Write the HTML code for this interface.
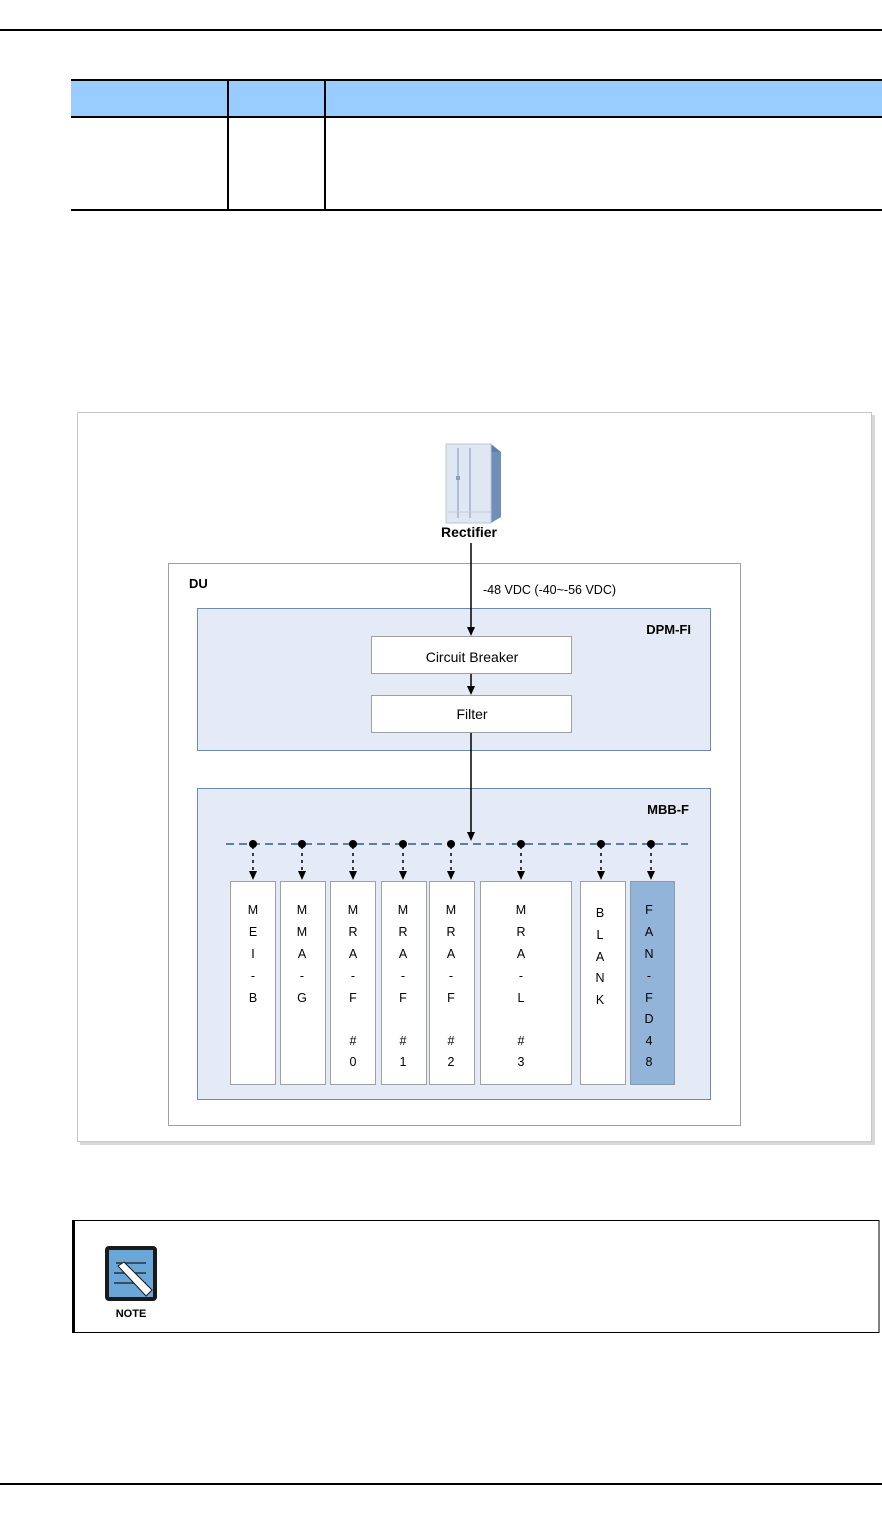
<!DOCTYPE html>
<html><head><meta charset="utf-8"><style>
html,body{margin:0;padding:0;background:#fff;}
svg{display:block;}
text{font-family:"Liberation Sans",Arial,sans-serif;}
</style></head><body>
<svg width="882" height="1514" viewBox="0 0 882 1514" xmlns="http://www.w3.org/2000/svg">
<defs>
<marker id="ah" markerWidth="8" markerHeight="8" refX="4" refY="7" orient="auto" markerUnits="userSpaceOnUse">
<path d="M0,0 L8,0 L4,8 z" transform="rotate(0)" fill="#000"/>
</marker>
</defs>
<!-- header line -->
<rect x="0" y="29" width="882" height="2" fill="#000"/>
<!-- table -->
<rect x="71" y="80" width="811" height="36" fill="#99ccff"/>
<rect x="71" y="79" width="811" height="2" fill="#000"/>
<rect x="71" y="116" width="811" height="2" fill="#000"/>
<rect x="71" y="209" width="811" height="2" fill="#000"/>
<rect x="227" y="79" width="2" height="132" fill="#000"/>
<rect x="324" y="79" width="2" height="132" fill="#000"/>

<!-- diagram frame -->
<rect x="80" y="415" width="795" height="730" fill="#d8d8d8"/>
<rect x="77.5" y="412.5" width="794" height="729" fill="#fff" stroke="#c8c8c8"/>

<!-- rectifier cabinet -->
<polygon points="446,444 491,444 501,452 456,452" fill="#5e80a8"/>
<polygon points="491,452 501,452 501,517 491,523" fill="#6f8fb5"/>
<rect x="446" y="444" width="45" height="79" fill="#dfe7f2" stroke="#b8c6d8"/>
<line x1="458" y1="448" x2="458" y2="518" stroke="#b0c0d4" stroke-width="2"/>
<line x1="470" y1="448" x2="470" y2="518" stroke="#b0c0d4" stroke-width="2"/>
<line x1="448" y1="512" x2="490" y2="512" stroke="#c0ccdc"/>
<rect x="456" y="476" width="4" height="4" fill="#8aa0ba"/>
<text x="469" y="537" font-size="14" font-weight="bold" text-anchor="middle">Rectifier</text>

<!-- DU -->
<rect x="168.5" y="563.5" width="572" height="562" fill="#fff" stroke="#a0a0a0"/>
<text x="189" y="588" font-size="13" font-weight="bold">DU</text>
<text x="483" y="594" font-size="12.5">-48 VDC (-40~-56 VDC)</text>

<!-- DPM-FI -->
<rect x="197.5" y="608.5" width="513" height="142" fill="#e4ebf6" stroke="#6a8ab0"/>
<text x="691" y="634" font-size="13" font-weight="bold" text-anchor="end">DPM-FI</text>
<rect x="371.5" y="636.5" width="200" height="37" fill="#fff" stroke="#a0a0a0"/>
<text x="472" y="662" font-size="14" text-anchor="middle">Circuit Breaker</text>
<rect x="371.5" y="695.5" width="200" height="37" fill="#fff" stroke="#a0a0a0"/>
<text x="472" y="719" font-size="14" text-anchor="middle">Filter</text>

<!-- MBB-F -->
<rect x="197.5" y="788.5" width="513" height="311" fill="#e4ebf6" stroke="#6a8ab0"/>
<text x="689" y="814" font-size="13" font-weight="bold" text-anchor="end">MBB-F</text>

<!-- main connectors -->
<line x1="471" y1="543" x2="471" y2="628" stroke="#000" stroke-width="1.5"/>
<path d="M467,627 L475,627 L471,636 z" fill="#000"/>
<line x1="471" y1="674" x2="471" y2="686" stroke="#000" stroke-width="1.5"/>
<path d="M467,686 L475,686 L471,695 z" fill="#000"/>
<line x1="471" y1="733" x2="471" y2="834" stroke="#000" stroke-width="1.5"/>
<path d="M467,832 L475,832 L471,841 z" fill="#000"/>

<!-- bus -->
<line x1="226" y1="844" x2="688" y2="844" stroke="#5a7fa8" stroke-width="2" stroke-dasharray="8,5"/>
<g fill="#000" stroke="#000">
<g id="d">
</g>
</g>
<g stroke="#000" stroke-width="1.5" stroke-dasharray="3,4">
<line x1="253" y1="846" x2="253" y2="872"/><line x1="302" y1="846" x2="302" y2="872"/>
<line x1="353" y1="846" x2="353" y2="872"/><line x1="403" y1="846" x2="403" y2="872"/>
<line x1="451" y1="846" x2="451" y2="872"/><line x1="521" y1="846" x2="521" y2="872"/>
<line x1="601" y1="846" x2="601" y2="872"/><line x1="651" y1="846" x2="651" y2="872"/>
</g>
<g fill="#000">
<circle cx="253" cy="844" r="4"/><circle cx="302" cy="844" r="4"/><circle cx="353" cy="844" r="4"/><circle cx="403" cy="844" r="4"/>
<circle cx="451" cy="844" r="4"/><circle cx="521" cy="844" r="4"/><circle cx="601" cy="844" r="4"/><circle cx="651" cy="844" r="4"/>
<path d="M249,871 L257,871 L253,880 z"/><path d="M298,871 L306,871 L302,880 z"/><path d="M349,871 L357,871 L353,880 z"/><path d="M399,871 L407,871 L403,880 z"/>
<path d="M447,871 L455,871 L451,880 z"/><path d="M517,871 L525,871 L521,880 z"/><path d="M597,871 L605,871 L601,880 z"/><path d="M647,871 L655,871 L651,880 z"/>
</g>

<!-- boards -->
<g stroke="#a0a0a0" fill="#fff">
<rect x="230.5" y="881.5" width="45" height="203"/>
<rect x="280.5" y="881.5" width="45" height="203"/>
<rect x="330.5" y="881.5" width="45" height="203"/>
<rect x="381.5" y="881.5" width="45" height="203"/>
<rect x="429.5" y="881.5" width="45" height="203"/>
<rect x="480.5" y="881.5" width="91" height="203"/>
<rect x="580.5" y="881.5" width="45" height="203"/>
<rect x="630.5" y="881.5" width="44" height="203" fill="#92b4d8" stroke="#8a9aaa"/>
</g>
<g font-size="12.5" text-anchor="middle" fill="#000">
<text x="253" y="914">M</text><text x="253" y="936">E</text><text x="253" y="958">I</text><text x="253" y="980">-</text><text x="253" y="1002">B</text>
<text x="302" y="914">M</text><text x="302" y="936">M</text><text x="302" y="958">A</text><text x="302" y="980">-</text><text x="302" y="1002">G</text>
<text x="353" y="914">M</text><text x="353" y="936">R</text><text x="353" y="958">A</text><text x="353" y="980">-</text><text x="353" y="1002">F</text><text x="353" y="1045">#</text><text x="353" y="1066">0</text>
<text x="403" y="914">M</text><text x="403" y="936">R</text><text x="403" y="958">A</text><text x="403" y="980">-</text><text x="403" y="1002">F</text><text x="403" y="1045">#</text><text x="403" y="1066">1</text>
<text x="451" y="914">M</text><text x="451" y="936">R</text><text x="451" y="958">A</text><text x="451" y="980">-</text><text x="451" y="1002">F</text><text x="451" y="1045">#</text><text x="451" y="1066">2</text>
<text x="521" y="914">M</text><text x="521" y="936">R</text><text x="521" y="958">A</text><text x="521" y="980">-</text><text x="521" y="1002">L</text><text x="521" y="1045">#</text><text x="521" y="1066">3</text>
<text x="600" y="917">B</text><text x="600" y="939">L</text><text x="600" y="961">A</text><text x="600" y="982">N</text><text x="600" y="1004">K</text>
<text x="649" y="914">F</text><text x="649" y="936">A</text><text x="649" y="958">N</text><text x="649" y="980">-</text><text x="649" y="1002">F</text><text x="649" y="1023">D</text><text x="649" y="1045">4</text><text x="649" y="1066">8</text>
</g>

<!-- note -->
<rect x="73" y="1220.5" width="806" height="112" fill="#fff" stroke="#000"/>
<rect x="72" y="1220" width="3" height="113" fill="#000"/>
<rect x="105" y="1246" width="52" height="55" rx="4" fill="#1a1a1a"/>
<rect x="109" y="1250" width="44" height="47" fill="#6ba6d8"/>
<g stroke="#1a1a1a" stroke-width="1.2">
<line x1="116" y1="1263" x2="146" y2="1263"/><line x1="114" y1="1273" x2="146" y2="1273"/><line x1="114" y1="1283" x2="146" y2="1283"/>
</g>
<polygon points="118,1266 124,1262 152,1290 146,1296" fill="#fff" stroke="#1a1a1a"/>
<text x="131" y="1317" font-size="11" font-weight="bold" text-anchor="middle">NOTE</text>

<!-- footer line -->
<rect x="0" y="1483" width="882" height="2" fill="#000"/>
</svg>
</body></html>
